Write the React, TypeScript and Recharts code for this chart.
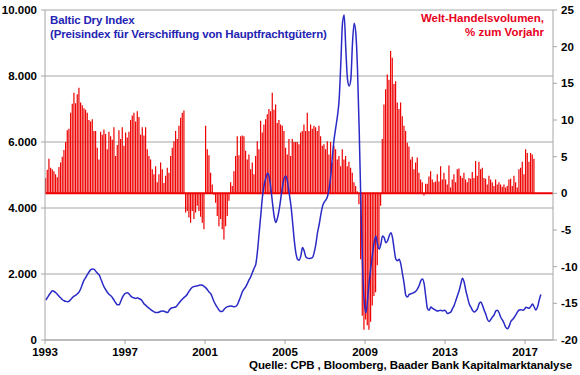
import { ComposedChart, Bar, Line, XAxis, YAxis, CartesianGrid, ReferenceLine } from 'recharts';

const startYear = 1993;

// Welt-Handelsvolumen, % zum Vorjahr (monatlich ab Jan 1993)
const tradeVolume: number[] = [
    2.1, 3.2, 4.7, 3.5, 3.3, 3.0, 2.6, 2.2, 3.6, 4.2, 5.0, 5.9, // 1993
    7.0, 8.6, 8.8, 11.0, 12.2, 13.7, 12.3, 13.5, 14.4, 12.4, 12.0, 11.6, // 1994
    11.4, 11.0, 10.0, 9.8, 10.1, 8.5, 8.5, 6.2, 4.6, 8.4, 8.0, 8.7, // 1995
    8.1, 6.0, 8.4, 7.8, 7.3, 9.0, 5.1, 6.6, 8.6, 7.4, 9.0, 6.5, // 1996
    8.3, 7.6, 8.4, 10.0, 10.6, 11.0, 9.8, 11.2, 10.4, 8.0, 9.0, 7.9, // 1997
    9.0, 6.0, 5.1, 4.6, 3.3, 2.6, 3.7, 1.5, 2.6, 4.2, 3.3, 1.4, // 1998
    2.4, 3.5, 2.8, 5.1, 6.2, 7.1, 8.5, 7.4, 9.2, 10.3, 11.0, 11.3, // 1999
    -2.6, -2.4, -3.3, -4.0, -2.4, -3.5, -2.6, -1.7, -2.4, -3.2, -4.0, -4.9, // 2000
    9.2, 6.0, 5.2, 2.8, 1.2, -0.2, -1.3, -3.1, -4.5, -3.5, -4.9, -6.3, // 2001
    -4.5, -3.1, -1.0, 1.5, 1.0, 3.0, 5.1, 7.8, 5.2, 7.8, 7.9, 7.8, // 2002
    5.8, 4.6, 5.3, 3.3, 4.2, 2.6, 5.1, 7.1, 6.0, 9.9, 8.3, 9.4, // 2003
    10.1, 10.8, 11.5, 11.2, 13.7, 11.4, 12.1, 9.6, 10.0, 9.4, 9.2, 8.5, // 2004
    6.2, 5.3, 7.4, 5.1, 7.4, 7.0, 7.0, 7.0, 6.7, 8.3, 8.5, 9.4, // 2005
    8.5, 11.0, 8.5, 9.4, 8.8, 9.2, 9.0, 8.5, 9.2, 7.8, 6.5, 6.7, // 2006
    6.0, 7.1, 5.3, 7.0, 4.2, 6.5, 6.0, 4.6, 5.1, 3.7, 6.0, 4.6, // 2007
    5.1, 3.7, 4.3, 3.5, 2.8, 1.5, 1.0, 0.3, -1.5, -9.0, -16.7, -18.6, // 2008
    -17.2, -18.0, -18.6, -17.5, -15.3, -14.0, -13.5, -9.8, -7.2, -1.7, 7.4, 12.1, // 2009
    14.2, 16.2, 15.5, 19.4, 18.5, 14.9, 15.3, 12.4, 11.5, 12.4, 10.5, 9.2, // 2010
    8.5, 6.9, 6.4, 4.6, 5.0, 3.3, 4.2, 4.9, 2.8, 1.9, 1.5, -0.3, // 2011
    1.3, 1.3, 2.3, 3.0, 1.9, 1.5, 1.6, 2.6, 1.6, 3.7, 1.9, 2.8, // 2012
    1.9, 1.2, 3.8, 0.8, 1.9, 2.6, 1.5, 3.3, 3.4, 2.4, 2.1, 2.8, // 2013
    1.9, 1.5, 2.1, 2.0, 2.9, 2.1, 4.4, 2.4, 4.3, 3.3, 3.5, 2.1, // 2014
    2.0, 1.2, 2.4, 1.9, 1.5, 1.0, 1.9, 1.2, 1.5, 1.2, 0.9, 1.2, // 2015
    0.8, 1.0, 1.9, 2.0, 1.0, 2.4, 1.5, 0.8, 3.3, 3.5, 4.3, 2.6, // 2016
    6.0, 5.5, 4.3, 5.5, 5.3, 4.7, // 2017
];

// Baltic Dry Index (monatlich ab Jan 1993)
const balticDry: number[] = [
    1210, 1290, 1370, 1440, 1490, 1470, 1430, 1380, 1320, 1270, 1220, 1190, // 1993
    1170, 1160, 1180, 1230, 1290, 1330, 1360, 1400, 1460, 1560, 1700, 1820, // 1994
    1900, 1990, 2070, 2130, 2150, 2140, 2080, 2020, 1970, 1850, 1720, 1600, // 1995
    1520, 1440, 1380, 1340, 1280, 1200, 1120, 1070, 1070, 1180, 1300, 1380, // 1996
    1420, 1430, 1390, 1330, 1290, 1270, 1260, 1280, 1250, 1230, 1170, 1090, // 1997
    1050, 1000, 960, 920, 880, 850, 830, 830, 850, 870, 880, 870, // 1998
    850, 830, 900, 960, 980, 990, 1000, 1060, 1130, 1190, 1240, 1290, // 1999
    1330, 1400, 1480, 1550, 1600, 1620, 1630, 1640, 1660, 1670, 1660, 1620, // 2000
    1580, 1520, 1450, 1400, 1280, 1150, 1060, 980, 900, 860, 870, 930, // 2001
    980, 1010, 1020, 1030, 1020, 1010, 1020, 1080, 1200, 1330, 1470, 1550, // 2002
    1620, 1720, 1830, 1920, 2050, 2180, 2300, 2700, 3250, 3800, 4350, 4700, // 2003
    4900, 5050, 4950, 4600, 4150, 3750, 3560, 3700, 3950, 4300, 4650, 4900, // 2004
    4970, 4800, 4450, 4100, 3600, 3050, 2650, 2450, 2420, 2550, 2800, 2700, // 2005
    2520, 2480, 2470, 2480, 2500, 2650, 2900, 3250, 3500, 3800, 4050, 4180, // 2006
    4240, 4350, 4600, 5000, 5600, 6100, 6450, 6800, 7300, 8400, 9600, 9850, // 2007
    8800, 7900, 7700, 7900, 9000, 9600, 9300, 8200, 6400, 4200, 2300, 1200, // 2008
    820, 1200, 1750, 2200, 2600, 2950, 3150, 2900, 2750, 2900, 3150, 3100, // 2009
    2950, 3000, 3150, 3250, 3100, 2750, 2450, 2400, 2450, 2300, 2000, 1700, // 2010
    1350, 1300, 1380, 1400, 1420, 1440, 1480, 1550, 1650, 1800, 1850, 1700, // 2011
    1300, 950, 900, 1000, 960, 930, 900, 880, 890, 900, 880, 900, // 2012
    870, 800, 820, 850, 950, 1050, 1200, 1350, 1500, 1700, 1870, 1750, // 2013
    1500, 1300, 1100, 1000, 900, 850, 880, 950, 1100, 1150, 1050, 900, // 2014
    780, 620, 560, 620, 700, 760, 880, 900, 820, 680, 600, 500, // 2015
    380, 340, 420, 560, 620, 680, 760, 850, 910, 920, 900, 920, // 2016
    990, 980, 960, 1020, 1090, 1000, 910, 1000, 1200, 1380, // 2017
];

const xTicks = [1993, 1997, 2001, 2005, 2009, 2013, 2017];
const leftTicks = [0, 2000, 4000, 6000, 8000, 10000];
const rightTicks = [-20, -15, -10, -5, 0, 5, 10, 15, 20, 25];

const data = Array.from({ length: Math.max(tradeVolume.length, balticDry.length) }, (_, i) => ({
    t: startYear + i / 12 + 1 / 24,
    trade: tradeVolume[i],
    bdi: balticDry[i],
}));

const font = '"Liberation Sans", Arial, sans-serif';
const tickStyle = { fill: '#000', fontSize: 11.5, fontWeight: 'bold', fontFamily: font };
const axisGray = '#a6a6a6';

const fmtThousands = (v: number) => (v >= 1000 ? `${v / 1000}.000` : `${v}`);

export default function App() {
    return (
        <div style={{ position: 'absolute', left: 0, top: 0, width: 580, height: 375, background: '#fff', fontFamily: font }}>
            <ComposedChart width={580} height={375} data={data} margin={{ top: 10, right: 0, bottom: 15, left: 0 }}>
                <CartesianGrid yAxisId="left" vertical={false} stroke={axisGray} strokeWidth={1} />
                <XAxis
                    type="number"
                    dataKey="t"
                    domain={[1993, 2018.4]}
                    ticks={xTicks}
                    interval={0}
                    height={20}
                    tickSize={4}
                    tickMargin={4}
                    stroke={axisGray}
                    tick={tickStyle}
                    allowDataOverflow
                />
                <YAxis
                    yAxisId="left"
                    domain={[0, 10000]}
                    ticks={leftTicks}
                    width={45}
                    tickSize={4}
                    tickMargin={4}
                    stroke={axisGray}
                    tick={tickStyle}
                    tickFormatter={fmtThousands}
                />
                <YAxis
                    yAxisId="right"
                    orientation="right"
                    domain={[-20, 25]}
                    ticks={rightTicks}
                    width={27}
                    tickSize={4}
                    tickMargin={4}
                    stroke={axisGray}
                    tick={tickStyle}
                />
                <Bar yAxisId="right" dataKey="trade" fill="#ee0000" barSize={1.2} isAnimationActive={false} />
                <ReferenceLine yAxisId="right" y={0} stroke="#ee0000" strokeWidth={2} />
                <Line
                    yAxisId="left"
                    dataKey="bdi"
                    type="monotone"
                    stroke="#2a2ac6"
                    strokeWidth={1.5}
                    dot={false}
                    connectNulls
                    isAnimationActive={false}
                />
            </ComposedChart>
            <div style={{ position: 'absolute', left: 50, top: 13, color: '#2424b4', fontSize: 11.5, fontWeight: 'bold', lineHeight: '14px', letterSpacing: '-0.15px' }}>
                Baltic Dry Index
                <br />
                (Preisindex für Verschiffung von Hauptfrachtgütern)
            </div>
            <div style={{ position: 'absolute', right: 36, top: 11, color: '#e8001c', fontSize: 11.5, fontWeight: 'bold', lineHeight: '14px', textAlign: 'right' }}>
                Welt-Handelsvolumen,
                <br />
                % zum Vorjahr
            </div>
            <div style={{ position: 'absolute', right: 8, top: 359, color: '#000', fontSize: 11.5, fontWeight: 'bold', whiteSpace: 'nowrap', letterSpacing: '-0.1px' }}>
                Quelle: CPB , Bloomberg, Baader Bank Kapitalmarktanalyse
            </div>
        </div>
    );
}
